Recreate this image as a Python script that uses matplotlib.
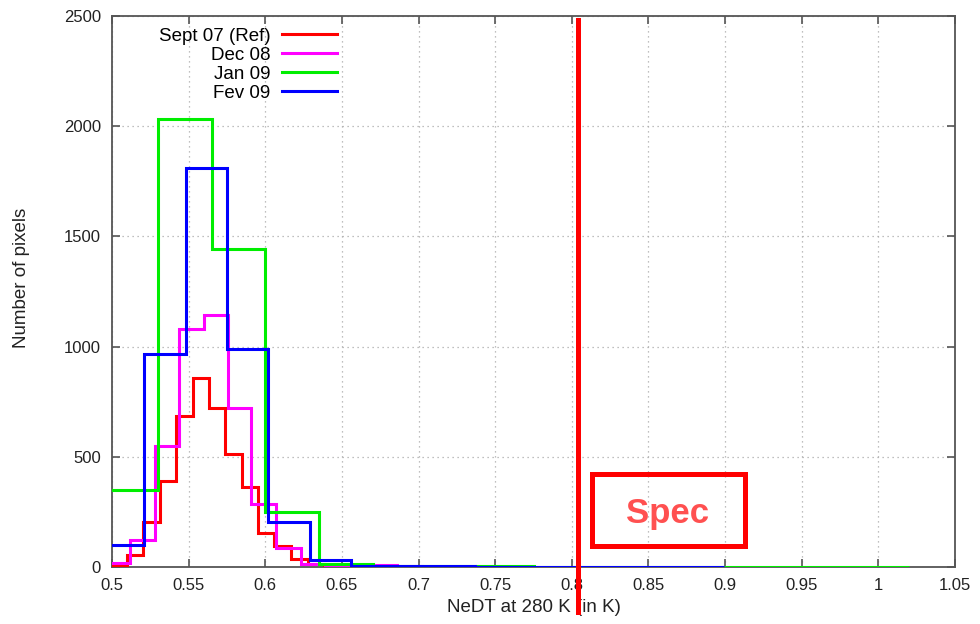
import matplotlib
matplotlib.use("Agg")
import matplotlib.pyplot as plt
from matplotlib.patches import Rectangle

plt.rcParams['font.family'] = ['Liberation Sans', 'DejaVu Sans']

# bin edges and counts
sept07_edges = [0.499, 0.510, 0.520, 0.531, 0.542, 0.553, 0.563, 0.574, 0.585,
                0.595, 0.606, 0.617, 0.628, 0.638, 0.649]
sept07_counts = [10, 54, 204, 390, 687, 859, 720, 513, 365, 155, 97, 38, 15, 3]

dec08_edges = [0.497, 0.512, 0.528, 0.544, 0.560, 0.576, 0.591, 0.607, 0.623,
               0.639, 0.655, 0.670, 0.686, 0.702]
dec08_counts = [20, 122, 549, 1080, 1145, 723, 288, 88, 12, 8, 10, 8, 6]

jan09_edges = [0.495, 0.530, 0.565, 0.600, 0.635, 0.670, 0.705, 0.740, 0.775,
               0.810, 0.845, 0.880, 0.915, 0.950, 0.985, 1.020]
jan09_counts = [350, 2031, 1443, 251, 15, 4, 3, 3, 2, 2, 2, 2, 2, 2, 1]

fev09_edges = [0.494, 0.521, 0.548, 0.575, 0.602, 0.629, 0.656, 0.683, 0.710,
               0.737, 0.764, 0.791, 0.818, 0.845, 0.872, 0.899]
fev09_counts = [102, 968, 1812, 988, 203, 32, 4, 3, 3, 2, 2, 2, 2, 2, 1]

series = [
    ("Sept 07 (Ref)", sept07_edges, sept07_counts, "#ff0000"),
    ("Dec 08", dec08_edges, dec08_counts, "#ff00ff"),
    ("Jan 09", jan09_edges, jan09_counts, "#00ee00"),
    ("Fev 09", fev09_edges, fev09_counts, "#0000ff"),
]

x_ticks = [0.5, 0.55, 0.6, 0.65, 0.7, 0.75, 0.8, 0.85, 0.9, 0.95, 1.0, 1.05]
x_labels = ["0.5", "0.55", "0.6", "0.65", "0.7", "0.75", "0.8", "0.85", "0.9",
            "0.95", "1", "1.05"]
y_ticks = [0, 500, 1000, 1500, 2000, 2500]
spec_value = 0.804

fig = plt.figure(figsize=(9.8, 6.24), dpi=100)
ax = fig.add_axes([112 / 980, 1 - 567 / 624, 843 / 980, 551 / 624])

for name, edges, counts, color in series:
    ax.stairs(counts, edges, color=color, linewidth=2.2, label=name, zorder=3)

ax.set_xlim(0.5, 1.05)
ax.set_ylim(0, 2500)
ax.set_xticks(x_ticks)
ax.set_xticklabels(x_labels)
ax.set_yticks(y_ticks)
ax.grid(True, linestyle=(0, (1, 3)), color="#aaaaaa", linewidth=0.9)
ax.tick_params(direction="in", length=6, width=1.2, color="#555555",
               top=True, right=True, labelsize=12, pad=8, labelcolor="#222222")
for s in ax.spines.values():
    s.set_color("#555555")
    s.set_linewidth(1.3)

ax.set_xlabel("NeDT at 280 K (in K)", fontsize=13.5, color="#222222", labelpad=4)
ax.set_ylabel("Number of pixels", fontsize=13.5, color="#222222")
ax.yaxis.set_label_coords(-0.097, 0.524)

leg = ax.legend(loc="upper right", bbox_to_anchor=(0.287, 1.009), frameon=False,
                markerfirst=False, fontsize=13.5, handlelength=2.95,
                labelspacing=0.1, handletextpad=0.6)

# spec line and annotation
ax.plot([spec_value, spec_value], [0.993, -0.082], color="#ff0000", linewidth=3.6,
        transform=ax.get_xaxis_transform(), clip_on=False, zorder=5)
fig.patches.append(Rectangle((592 / 980, 1 - 546 / 624), 153 / 980, 72 / 624,
                             transform=fig.transFigure, fill=False,
                             edgecolor="#ff0000", linewidth=3.6))
fig.text(668 / 980, 1 - 513 / 624, "Spec", color="#ff5050", fontsize=25,
         fontweight="bold", ha="center", va="center")

fig.savefig("out.png", dpi=100)
